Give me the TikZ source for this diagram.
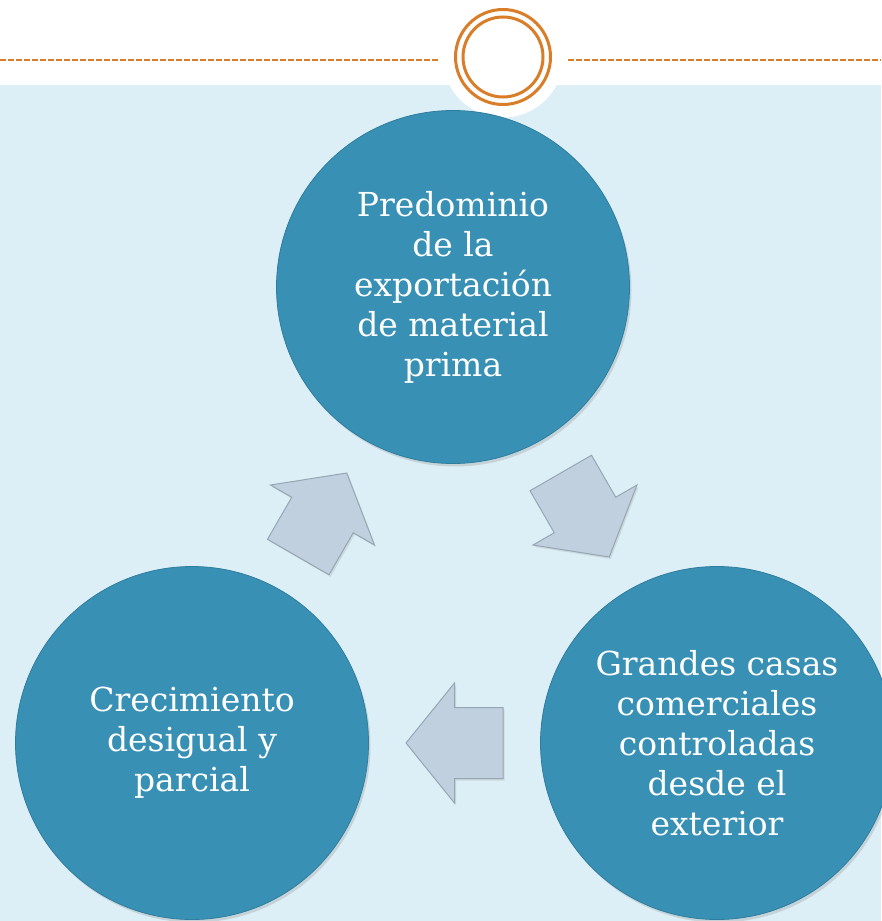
\documentclass[tikz,border=0pt]{standalone}
\usepackage{fontspec}
\setmainfont{DejaVu Serif}
\usetikzlibrary{shadows,calc}

\definecolor{bgblue}{HTML}{DDEFF6}
\definecolor{stageblue}{HTML}{3891B4}
\definecolor{stageedge}{HTML}{2E7D9E}
\definecolor{arrowfill}{HTML}{C0D0DE}
\definecolor{arrowedge}{HTML}{97A6B3}
\definecolor{ornament}{HTML}{D97D28}

\tikzset{
  stage/.style={circle, draw=stageedge, line width=0.8pt, fill=stageblue,
    minimum size=353pt, inner sep=0pt, align=center, text=white,
    font=\fontsize{33}{40}\selectfont,
    drop shadow={shadow xshift=2pt, shadow yshift=-3pt, opacity=0.25}},
  arrowbox/.style={draw=arrowedge, line width=1pt, fill=arrowfill, line join=miter,
    drop shadow={shadow xshift=1.5pt, shadow yshift=-2pt, opacity=0.2}},
  cyclearrow/.pic={
    \draw[arrowbox] (-48.5,-35.5) -- (0,-35.5) -- (0,-60) -- (48.5,0)
      -- (0,60) -- (0,35.5) -- (-48.5,35.5) -- cycle;
  }
}

\begin{document}
\begin{tikzpicture}[x=1pt, y=-1pt]
  \fill[white] (0,0) rectangle (881,921);
  \useasboundingbox (0,0) rectangle (881,921);
  \fill[bgblue] (0,85) rectangle (881,921);

  % header ornament
  \coordinate (lineL) at (0,60);
  \coordinate (lineR) at (881,60);
  \node (ornament) [circle, fill=white, minimum size=121pt, inner sep=0pt] at (503,57) {};
  \draw[ornament, line width=2pt, dash pattern=on 6pt off 2pt]
    (lineL) -- ([xshift=-3pt]ornament.west |- lineL);
  \draw[ornament, line width=2pt, dash pattern=on 6pt off 2pt]
    ([xshift=4pt]ornament.east |- lineR) -- (lineR);
  \draw[ornament, line width=3pt] (ornament.center) circle[radius=47.5];
  \draw[ornament, line width=3pt] (ornament.center) circle[radius=40];

  % stages
  \node (materia)
        [stage] at (453,287)
        {Predominio\\de la\\exportación\\de material\\prima};
  \node (casas)
        [stage] at (717,743)
        {Grandes casas\\comerciales\\controladas\\desde el\\exterior};
  \node (crecimiento)
        [stage] at (192,743)
        {Crecimiento\\desigual y\\parcial};

  % cycle arrows
  \pic[rotate=-60] at ($(materia)!0.5!(casas)$) {cyclearrow};
  \pic[rotate=180] at ($(casas)!0.5!(crecimiento)$) {cyclearrow};
  \pic[rotate=60] at ($(crecimiento)!0.5!(materia)$) {cyclearrow};
\end{tikzpicture}
\end{document}
